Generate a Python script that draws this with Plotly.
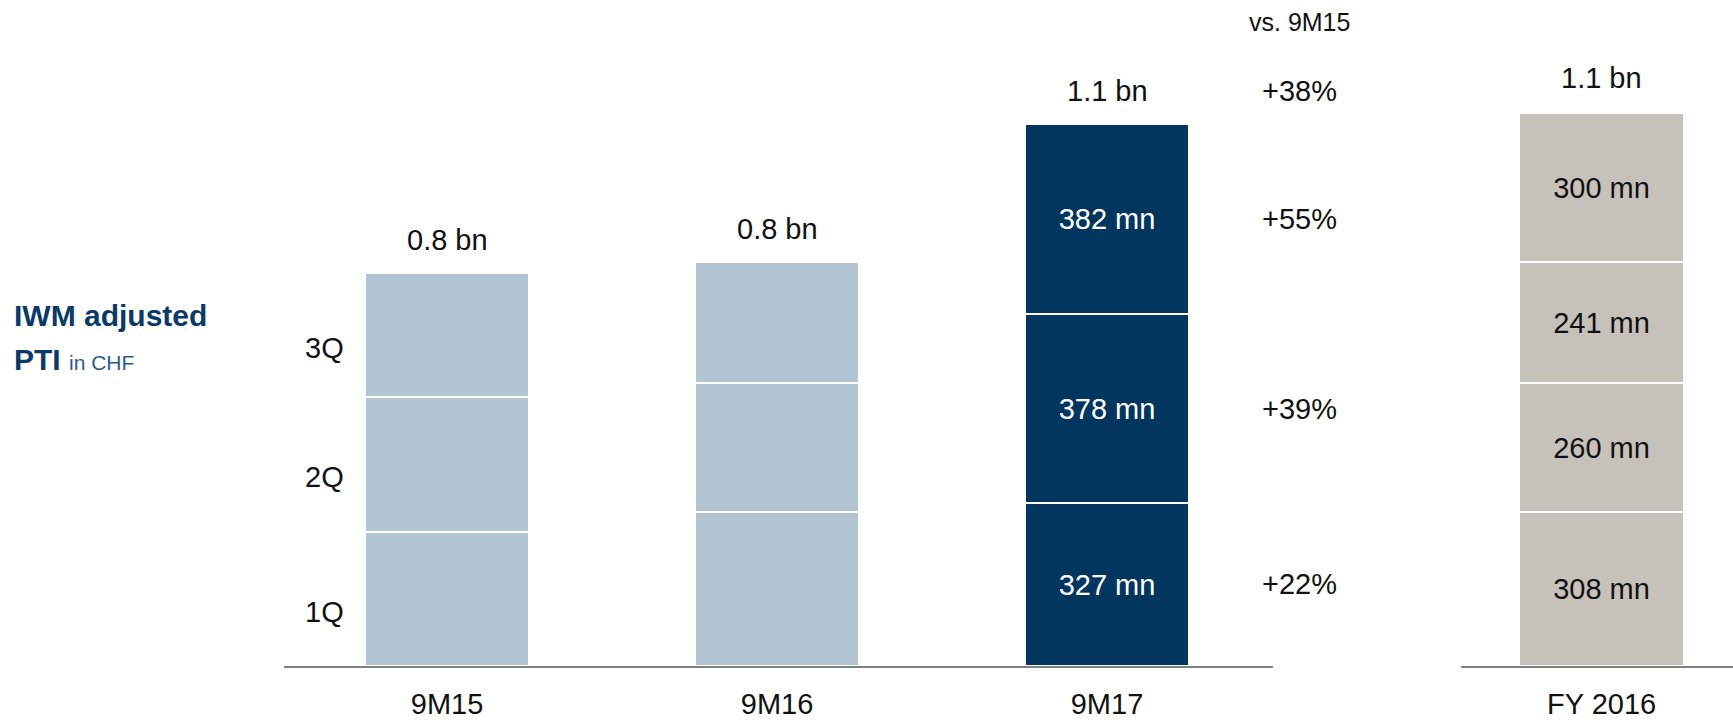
import plotly.graph_objects as go

# Quarterly adjusted pre-tax income, CHF mn
periods = ["9M15", "9M16", "9M17"]
q1_values = [268, 308, 327]
q2_values = [272, 260, 378]
q3_values = [247, 241, 382]

fy_period = ["FY 2016"]
fy_quarter_values = [308, 260, 241, 300]

quarter_labels = ["1Q", "2Q", "3Q"]
growth_header = "vs. 9M15"

FONT = "Liberation Sans, Arial, sans-serif"
LIGHT = "#B2C3D1"
NAVY = "#03365F"
SAND = "#C7C1BC"
TEXT = "#111111"

fig = go.Figure()

main_quarters = [q1_values, q2_values, q3_values]
bar_colors = [LIGHT, LIGHT, NAVY]
for qi, vals in enumerate(main_quarters):
    fig.add_trace(go.Bar(
        x=periods, y=vals, width=0.497,
        marker=dict(color=bar_colors, line=dict(color="white", width=2)),
        text=["", "", f"{vals[2]} mn"],
        textposition="inside", insidetextanchor="middle",
        textangle=0, constraintext="none",
        textfont=dict(family=FONT, size=29, color="white"),
        hoverinfo="skip", showlegend=False,
        xaxis="x", yaxis="y",
    ))

for v in fy_quarter_values:
    fig.add_trace(go.Bar(
        x=fy_period, y=[v], width=0.5,
        marker=dict(color=SAND, line=dict(color="white", width=2)),
        text=[f"{v} mn"], textposition="inside", insidetextanchor="middle",
        textangle=0, constraintext="none",
        textfont=dict(family=FONT, size=29, color=TEXT),
        hoverinfo="skip", showlegend=False,
        xaxis="x2", yaxis="y",
    ))

annotations = []
totals = [a + b + c for a, b, c in zip(q1_values, q2_values, q3_values)]
for p, t in zip(periods, totals):
    annotations.append(dict(x=p, y=t, xref="x", yref="y", text=f"{t / 1000:.1f} bn",
                            showarrow=False, yanchor="middle", yshift=33,
                            font=dict(family=FONT, size=29, color=TEXT)))
fy_total = sum(fy_quarter_values)
annotations.append(dict(x=fy_period[0], y=fy_total, xref="x2", yref="y",
                        text=f"{fy_total / 1000:.1f} bn", showarrow=False,
                        yanchor="middle", yshift=35,
                        font=dict(family=FONT, size=29, color=TEXT)))

# quarter names beside the first bar
base = 0
for name, v in zip(quarter_labels, [q1_values[0], q2_values[0], q3_values[0]]):
    annotations.append(dict(x=periods[0], y=base + v / 2, xref="x", yref="y", text=name,
                            showarrow=False, xshift=-123, yshift=-13,
                            font=dict(family=FONT, size=29, color=TEXT)))
    base += v

# growth column vs. first period
def pct(new, old):
    return f"+{round((new / old - 1) * 100):d}%"

annotations.append(dict(x=periods[2], y=1.0, xref="x", yref="paper", text=growth_header,
                        showarrow=False, xshift=192, yanchor="middle", yshift=-2,
                        font=dict(family=FONT, size=25, color=TEXT)))
annotations.append(dict(x=periods[2], y=totals[2], xref="x", yref="y",
                        text=pct(totals[2], totals[0]), showarrow=False,
                        xshift=192, yanchor="middle", yshift=33,
                        font=dict(family=FONT, size=29, color=TEXT)))
base = 0
for vals in main_quarters:
    annotations.append(dict(x=periods[2], y=base + vals[2] / 2, xref="x", yref="y",
                            text=pct(vals[2], vals[0]), showarrow=False,
                            xshift=192, yanchor="middle",
                            font=dict(family=FONT, size=29, color=TEXT)))
    base += vals[2]

# side title
annotations.append(dict(x=12 / 1733, y=(666 - 315) / 646, xref="paper", yref="paper",
                        text="<b>IWM adjusted</b>", showarrow=False,
                        xanchor="left", yanchor="middle",
                        font=dict(family=FONT, size=30, color="#0B3A67")))
annotations.append(dict(x=12 / 1733, y=(666 - 359) / 646, xref="paper", yref="paper",
                        text="<b>PTI</b> <span style='font-size:21px;color:#2D5B8C'>in CHF</span>",
                        showarrow=False, xanchor="left", yanchor="middle",
                        font=dict(family=FONT, size=30, color="#0B3A67")))

axis_common = dict(
    type="category", showgrid=False, zeroline=False, automargin=False,
    showline=True, linecolor="#808080", linewidth=2,
    ticks="outside", ticklen=11, tickcolor="rgba(0,0,0,0)",
    tickfont=dict(family=FONT, size=29, color=TEXT),
    fixedrange=True,
)

fig.update_layout(
    width=1733, height=720,
    margin=dict(l=0, r=0, t=20, b=54, autoexpand=False),
    paper_bgcolor="white", plot_bgcolor="white",
    barmode="stack", bargap=0,
    xaxis=dict(domain=[284 / 1733, 1273 / 1733], range=[-0.494, 2.503], **axis_common),
    xaxis2=dict(domain=[1461 / 1733, 1.0], range=[-0.426, 0.398], anchor="y", **axis_common),
    yaxis=dict(range=[0, 1295], visible=False, fixedrange=True, automargin=False),
    annotations=annotations,
)

fig.write_html("out.html")
